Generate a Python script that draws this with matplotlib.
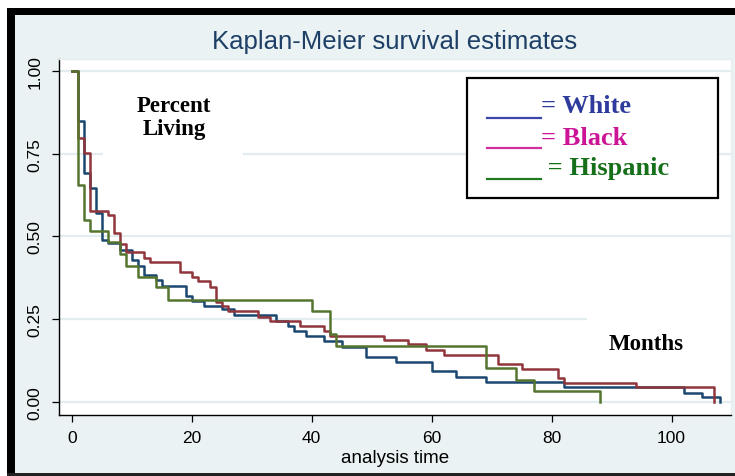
import matplotlib
matplotlib.use("Agg")
import matplotlib.pyplot as plt
from matplotlib.patches import Rectangle
from matplotlib.lines import Line2D

# ---------------- data ----------------
white_t = [0, 1, 2, 3, 4, 5, 6, 8, 10, 11, 12, 14, 15, 19, 20, 22, 25, 27, 34, 36, 37,
           39, 42, 45, 49, 54, 60, 64, 69, 82, 102, 105, 108]
white_s = [1.0, 0.85, 0.692, 0.646, 0.571, 0.489, 0.479, 0.459, 0.428, 0.411, 0.383,
           0.368, 0.351, 0.32, 0.305, 0.29, 0.28, 0.262, 0.245, 0.23, 0.213, 0.2, 0.183,
           0.166, 0.136, 0.119, 0.094, 0.076, 0.059, 0.045, 0.026, 0.013, 0.0]

black_t = [0, 1, 2, 3, 6, 7, 8, 9, 12, 13, 18, 20, 21, 23, 24, 25, 26, 31, 33, 38, 42,
           43, 52, 56, 59, 62, 71, 75, 81, 82, 94, 107]
black_s = [1.0, 0.797, 0.752, 0.578, 0.565, 0.509, 0.477, 0.452, 0.434, 0.421, 0.391,
           0.376, 0.364, 0.346, 0.3, 0.288, 0.273, 0.257, 0.243, 0.23, 0.215, 0.2, 0.187,
           0.175, 0.156, 0.142, 0.113, 0.098, 0.071, 0.058, 0.043, 0.0]

hisp_t = [0, 1, 2, 3, 6, 8, 9, 11, 14, 16, 40, 43, 44, 69, 74, 77, 88]
hisp_s = [1.0, 0.655, 0.55, 0.515, 0.482, 0.447, 0.411, 0.378, 0.346, 0.308, 0.274,
          0.205, 0.169, 0.102, 0.066, 0.031, 0.0]

x_ticks = [0, 20, 40, 60, 80, 100]
y_ticks = [0.0, 0.25, 0.5, 0.75, 1.0]
y_tick_labels = ["0.00", "0.25", "0.50", "0.75", "1.00"]

title = "Kaplan-Meier survival estimates"
x_label = "analysis time"
legend_labels = ["= White", "= Black", " = Hispanic"]

# ---------------- layout helpers ----------------
W, H = 735, 477
def fx(px):
    return px / W
def fy(py):
    return 1 - py / H

BG = "#eaf2f3"
GRID = "#e3ecee"
NAVY, MAROON, FOREST = "#1a476f", "#90353b", "#55752f"

fig = plt.figure(figsize=(W / 100, H / 100), dpi=100)
fig.patch.set_facecolor("white")

# outer frame: light region with black left/top bars, dark bottom line
fig.add_artist(Rectangle((fx(15), 0), 1 - fx(15), fy(16), transform=fig.transFigure,
                         facecolor=BG, edgecolor="none", zorder=-10))
fig.add_artist(Rectangle((fx(7), fy(477)), fx(8), fy(9) - fy(477), transform=fig.transFigure,
                         facecolor="black", edgecolor="none", zorder=-9))
fig.add_artist(Rectangle((fx(7), fy(16)), 1 - fx(7), fy(9) - fy(16), transform=fig.transFigure,
                         facecolor="black", edgecolor="none", zorder=-9))
fig.add_artist(Rectangle((fx(7), fy(476.5)), 1 - fx(7), fy(474.5) - fy(476.5),
                         transform=fig.transFigure, facecolor="#222222", edgecolor="none",
                         zorder=-9))

ax_l, ax_r, ax_t, ax_b = 59.3, 731.0, 60.0, 416.0
ax = fig.add_axes([fx(ax_l), fy(ax_b), fx(ax_r) - fx(ax_l), fy(ax_t) - fy(ax_b)])
ax.set_facecolor("white")

ax.set_xlim(-2.07, 109.9)
ax.set_ylim(-0.0402, 1.0363)

ax.set_axisbelow(True)
ax.yaxis.grid(True, color=GRID, lw=1.6)
ax.xaxis.grid(False)

for sp in ["top", "right"]:
    ax.spines[sp].set_color("#e6eef0")
    ax.spines[sp].set_linewidth(1.0)
for sp in ["left", "bottom"]:
    ax.spines[sp].set_color("black")
    ax.spines[sp].set_linewidth(1.0)

ax.set_xticks(x_ticks)
ax.set_xticklabels([str(v) for v in x_ticks])
ax.set_yticks(y_ticks)
ax.set_yticklabels(y_tick_labels)
ax.tick_params(axis="both", length=5.2, width=0.9, color="black", labelsize=12.5,
               labelcolor="black")
ax.tick_params(axis="x", pad=5.5)
ax.tick_params(axis="y", pad=7.0)
for lab in ax.get_yticklabels():
    lab.set_rotation(90)
    lab.set_va("center")
for lab in ax.get_xticklabels() + ax.get_yticklabels():
    lab.set_family("Liberation Sans")

# white boxes behind annotation texts (hide gridlines)
ax.add_patch(Rectangle((fx(103), fy(236)), fx(243) - fx(103), fy(76) - fy(236),
                       transform=fig.transFigure, facecolor="white", edgecolor="none", zorder=1))
ax.add_patch(Rectangle((fx(587), fy(365)), fx(735) - fx(587), fy(312) - fy(365),
                       transform=fig.transFigure, facecolor="white", edgecolor="none", zorder=1))
# legend box
ax.add_patch(Rectangle((fx(467), fy(199)), fx(718) - fx(467), fy(79) - fy(199),
                       transform=fig.transFigure, facecolor="white", edgecolor="black",
                       lw=1.6, zorder=1))

# survival curves
ax.step(white_t, white_s, where="post", color=NAVY, lw=1.8, zorder=3)
ax.step(black_t, black_s, where="post", color=MAROON, lw=1.8, zorder=3)
ax.step(hisp_t, hisp_s, where="post", color=FOREST, lw=1.8, zorder=3)

# title and axis label
fig.text(fx(395), fy(42), title, ha="center", va="center", color="#1e3f66",
         fontsize=18.5, family="Liberation Sans")
fig.text(fx(395), fy(462.7), x_label, ha="center", va="baseline", color="black",
         fontsize=13.5, family="Liberation Sans")

# annotation texts
fig.text(fx(174), fy(118), "Percent\nLiving", ha="center", va="center", ma="center",
         fontsize=16.5, fontweight="bold", family="Liberation Serif", linespacing=1.1)
fig.text(fx(646.5), fy(350), "Months", ha="center", va="baseline",
         fontsize=16.5, fontweight="bold", family="Liberation Serif")

# hand-made legend
leg_line_colors = ["#3b47a8", "#d02f9e", "#1f7a22"]
leg_text_colors = ["#2e3a9c", "#cc1596", "#16701a"]
leg_line_y = [119, 149.3, 180]
leg_text_x = [540.7, 540.7, 540.7]
leg_text_base = [113, 145, 175]
for ly, lc, tc, tx, tb, lab in zip(leg_line_y, leg_line_colors, leg_text_colors,
                                    leg_text_x, leg_text_base, legend_labels):
    fig.add_artist(Line2D([fx(487), fx(541)], [fy(ly), fy(ly)], transform=fig.transFigure,
                          color=lc, lw=1.6, zorder=5))
    fig.text(fx(tx), fy(tb), lab, ha="left", va="baseline", color=tc, fontsize=19,
             fontweight="bold", family="Liberation Serif")

fig.savefig("out.png", dpi=100, facecolor=fig.get_facecolor())
